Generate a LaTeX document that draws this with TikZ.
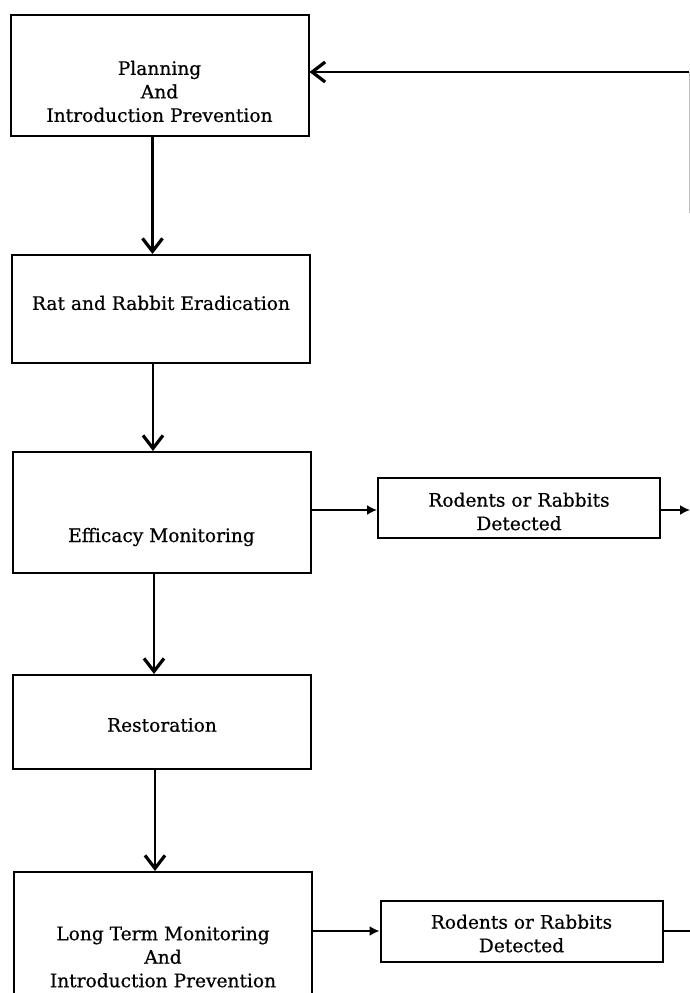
\documentclass[tikz,border=0pt]{standalone}
\usepackage{fontspec}
\setmainfont{DejaVu Serif}[FakeBold=0.6]
\usetikzlibrary{arrows.meta}

\begin{document}
\begin{tikzpicture}[x=1pt,y=1pt,
  stage/.style={draw, line width=2pt, minimum width=298pt},
  detect/.style={draw, line width=2pt, minimum width=282pt, minimum height=60pt},
  caption/.style={align=center, inner sep=0pt, font=\fontsize{18.6}{23.5}\selectfont},
  down/.style={line width=2.2pt, -{Straight Barb[length=13pt,width=20pt,line width=3.2pt]}},
  side/.style={line width=1.8pt, -{Latex[length=10pt,width=10pt]}}]
\useasboundingbox (0,0) rectangle (690,-993);
\clip (0,0) rectangle (690,-993);
% main column
\node[stage, minimum height=121pt] (plan) at (159.5,-75.5) {};
\node[stage, minimum height=108pt] (erad) at (161,-309) {};
\node[stage, minimum height=121pt] (eff) at (161.5,-512.5) {};
\node[stage, minimum height=94pt] (rest) at (162,-722) {};
\node[stage, minimum height=170pt] (ltm) at (163,-957) {};
\node[caption] (planText) at ([yshift=-16pt]plan.center) {Planning\\And\\Introduction Prevention};
\node[caption] (eradText) at ([yshift=6pt]erad.center) {Rat and Rabbit Eradication};
\node[caption] (effText) at ([yshift=-24.5pt]eff.center) {Efficacy Monitoring};
\node[caption] (restText) at ([yshift=-3pt]rest.center) {Restoration};
\node[caption] (ltmText) at (ltm.center) {Long Term Monitoring\\And\\Introduction Prevention};
% detection boxes
\node[detect] (det1) at (519,-508) {};
\node[detect, minimum height=61pt] (det2) at (521.5,-931.5) {};
\node[caption] (det1Text) at ([yshift=-3.5pt]det1.center) {Rodents or Rabbits\\Detected};
\node[caption] (det2Text) at ([yshift=-2pt]det2.center) {Rodents or Rabbits\\Detected};
\coordinate (out1) at (690,-510);
\coordinate (out2) at (690,-931);
\coordinate (ret) at (689,-72);
\coordinate (retEnd) at (689,-213);

\draw[down] ([xshift=-7pt]plan.south) -- ([xshift=-7pt]plan.south |- erad.north);
\draw[down] ([xshift=-8pt]erad.south) -- ([xshift=-8pt]erad.south |- eff.north);
\draw[down] ([xshift=-7.5pt]eff.south) -- ([xshift=-7.5pt]eff.south |- rest.north);
\draw[down] ([xshift=-7pt]rest.south) -- ([xshift=-7pt]rest.south |- ltm.north);
\draw[side] (eff.east |- out1) -- (det1.west |- out1);
\draw[side] (det1.east |- out1) -- (out1);
\draw[side] (ltm.east |- out2) -- (det2.west |- out2);
\draw[line width=1.8pt] (det2.east |- out2) -- (out2);
% loop back to planning
\draw[gray!50, line width=1pt] (ret) -- (retEnd);
\draw[down] (ret) -- (ret -| plan.east);
\end{tikzpicture}
\end{document}
